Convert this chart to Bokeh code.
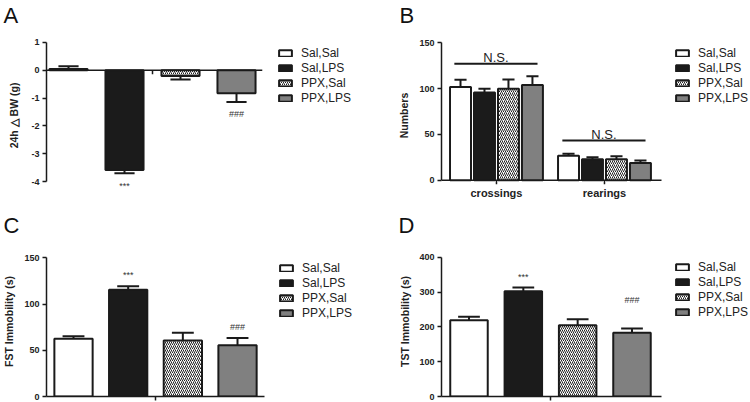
from bokeh.plotting import figure
from bokeh.layouts import row, column
from bokeh.models import Range1d, FixedTicker, Legend, LegendItem, ColumnDataSource
from bokeh.embed import file_html
from bokeh.resources import INLINE
from bokeh.core.properties import value

# ---------------- data ----------------
groups = ["Sal,Sal", "Sal,LPS", "PPX,Sal", "PPX,LPS"]

a_mean = [0.05, -3.58, -0.21, -0.83]
a_sem = [0.09, 0.12, 0.12, 0.31]
a_marks = ["", "***", "", "###"]
a_mark_y = [0.0, -4.14, 0.0, -1.57]

b_categories = ["crossings", "rearings"]
b_mean_sal_sal = [101.7, 26.7]
b_mean_sal_lps = [95.6, 23.0]
b_mean_ppx_sal = [99.9, 23.0]
b_mean_ppx_lps = [103.9, 18.8]
b_sem_sal_sal = [7.9, 2.2]
b_sem_sal_lps = [4.3, 2.2]
b_sem_ppx_sal = [10.1, 3.3]
b_sem_ppx_lps = [9.4, 2.8]
b_ns_y = [127.0, 43.3]

c_mean = [62.4, 115.4, 60.6, 55.5]
c_sem = [2.8, 3.9, 8.3, 7.9]
c_marks = ["", "***", "", "###"]
c_mark_y = [0.0, 132.0, 0.0, 75.0]

d_mean = [219.0, 302.6, 204.4, 183.0]
d_sem = [10.0, 10.4, 17.3, 12.7]
d_marks = ["", "***", "", "###"]
d_mark_y = [0.0, 344.0, 0.0, 278.0]

# ---------------- styles ----------------
FONT = "Liberation Sans"
INK = "#1a1a1a"
fills = ["white", "#1b1b1b", "white", "#808080"]
hatches = [" ", " ", "/", " "]


def base_fig(left, top, bottom, xr, xbounds, yr, yticks, ybounds, ylabel, ystandoff):
    p = figure(width=375, height=201, x_range=Range1d(*xr), y_range=Range1d(*yr),
               output_backend="svg", toolbar_location=None,
               min_border_left=left, min_border_right=0,
               min_border_top=top, min_border_bottom=bottom)
    p.grid.visible = False
    p.outline_line_color = None
    p.background_fill_color = "white"
    p.border_fill_color = "white"
    ya = p.yaxis[0]
    ya.ticker = FixedTicker(ticks=yticks)
    ya.bounds = ybounds
    ya.major_label_overrides = {t: str(t) for t in yticks}
    ya.minor_tick_line_color = None
    ya.major_tick_in = 0
    ya.major_tick_out = 4
    ya.axis_line_width = 1.5
    ya.axis_line_color = INK
    ya.major_tick_line_color = INK
    ya.major_tick_line_width = 1.5
    ya.major_label_text_font = FONT
    ya.major_label_text_font_style = "bold"
    ya.major_label_text_font_size = "9px"
    ya.major_label_text_color = "#222222"
    ya.major_label_standoff = 3
    ya.axis_label = ylabel
    ya.axis_label_text_font = FONT
    ya.axis_label_text_font_style = "bold"
    ya.axis_label_text_font_size = "10.5px"
    ya.axis_label_text_color = "#222222"
    ya.axis_label_standoff = ystandoff
    xa = p.xaxis[0]
    xa.bounds = xbounds
    xa.minor_tick_line_color = None
    xa.major_tick_in = 0
    xa.major_tick_out = 4
    xa.axis_line_width = 1.5
    xa.axis_line_color = INK
    xa.major_tick_line_color = INK
    xa.major_tick_line_width = 1.5
    xa.ticker = FixedTicker(ticks=[sum(range(len(groups))) / len(groups)])
    xa.major_label_overrides = {1.5: ""}
    xa.major_label_text_font_size = "0px"
    xa.major_label_standoff = 0
    return p


def letter_title(p, letter, offset, standoff):
    p.title.text = letter
    p.title.align = "left"
    p.title.vertical_align = "top"
    p.title.offset = offset
    p.title.standoff = standoff
    p.title.text_font = FONT
    p.title.text_font_style = "normal"
    p.title.text_font_size = "22px"
    p.title.text_color = "#111111"


def add_legend(p, renderer, loc, step=1):
    items = [LegendItem(label=g, renderers=[renderer], index=i * step) for i, g in enumerate(groups)]
    lg = Legend(items=items, location=loc, border_line_color=None,
                background_fill_alpha=0, glyph_width=16, glyph_height=8,
                label_text_font=FONT, label_text_font_size="12px",
                label_text_color="#222222", label_height=15,
                label_standoff=8, spacing=0, padding=0, margin=0)
    p.add_layout(lg)


def simple_bars(p, means, sems, bar_w, cap_hw, marks, mark_y):
    xs = list(range(len(groups)))
    ends = [m + (s if m >= 0 else -s) for m, s in zip(means, sems)]
    p.segment(x0=xs, y0=means, x1=xs, y1=ends, line_color=INK, line_width=2)
    p.segment(x0=[x - cap_hw for x in xs], y0=ends, x1=[x + cap_hw for x in xs], y1=ends,
              line_color=INK, line_width=2)
    src = ColumnDataSource(dict(x=xs, top=means, fill=fills, hatch=hatches))
    r = p.vbar(x="x", top="top", bottom=0, width=bar_w, source=src,
               fill_color="fill", hatch_pattern="hatch", hatch_color="#222222",
               hatch_scale=4, hatch_weight=1, line_color=INK, line_width=2)
    mx = [x for x, t in zip(xs, marks) if t]
    my = [y for y, t in zip(mark_y, marks) if t]
    mt = [t for t in marks if t]
    p.text(x=mx, y=my, text=mt, text_align="center", text_baseline="middle",
           text_font=value(FONT), text_font_size="9px", text_color="#333333")
    return r


# ---------------- Panel A ----------------
a_xr = (-0.393, 5.482)
a_xbounds = (a_xr[0], 3.46)
pA = base_fig(46, 30, 2, a_xr, a_xbounds, (-4.643, 1.393),
              [-4, -3, -2, -1, 0, 1], (-4, 1), "24h \u25b3 BW (g)", 8)
pA.xaxis.visible = False
a_mid = sum(range(len(groups))) / len(groups)
# zero baseline (x axis of panel A) with its centre tick
pA.segment(x0=[a_xbounds[0]], y0=[0], x1=[a_xbounds[1]], y1=[0], line_color=INK, line_width=1.5)
pA.segment(x0=[a_mid], y0=[0], x1=[a_mid], y1=[-0.14], line_color=INK, line_width=1.5)
rA = simple_bars(pA, a_mean, a_sem, 0.68, 0.18, a_marks, a_mark_y)
add_legend(pA, rA, (231, 94))
letter_title(pA, "A", -43, 4)

# ---------------- Panel B ----------------
b_xr = (-0.509, 2.352)
b_xbounds = (b_xr[0], 1.528)
pB = base_fig(66, 30, 2, b_xr, b_xbounds, (-20.9, 162.2),
              [0, 50, 100, 150], (0, 150), "Numbers", 6)
pB.xaxis.visible = False
cats = list(range(len(b_categories)))
# category axis of panel B drawn on the zero line
pB.segment(x0=[b_xbounds[0]], y0=[0], x1=[b_xbounds[1]], y1=[0], line_color=INK, line_width=1.5)
pB.segment(x0=cats, y0=[0] * len(cats), x1=cats, y1=[-4.3] * len(cats), line_color=INK, line_width=1.5)
pB.text(x=cats, y=[-13.3] * len(cats), text=b_categories, text_align="center",
        text_baseline="middle", text_font=value(FONT), text_font_style="bold",
        text_font_size="11px", text_color="#222222")
b_means = [b_mean_sal_sal, b_mean_sal_lps, b_mean_ppx_sal, b_mean_ppx_lps]
b_sems = [b_sem_sal_sal, b_sem_sal_lps, b_sem_ppx_sal, b_sem_ppx_lps]
offsets = [-0.333, -0.111, 0.111, 0.333]
bx, btop, bfill, bhatch, bend = [], [], [], [], []
for gi in range(len(groups)):
    for ci in range(len(b_categories)):
        bx.append(ci + offsets[gi])
        btop.append(b_means[gi][ci])
        bend.append(b_means[gi][ci] + b_sems[gi][ci])
        bfill.append(fills[gi])
        bhatch.append(hatches[gi])
pB.segment(x0=bx, y0=btop, x1=bx, y1=bend, line_color=INK, line_width=2)
pB.segment(x0=[x - 0.056 for x in bx], y0=bend, x1=[x + 0.056 for x in bx], y1=bend,
           line_color=INK, line_width=2)
srcB = ColumnDataSource(dict(x=bx, top=btop, fill=bfill, hatch=bhatch))
rB = pB.vbar(x="x", top="top", bottom=0, width=0.194, source=srcB,
             fill_color="fill", hatch_pattern="hatch", hatch_color="#222222",
             hatch_scale=4, hatch_weight=1, line_color=INK, line_width=2)
pB.segment(x0=[c - 0.39 for c in cats], y0=b_ns_y, x1=[c + 0.38 for c in cats], y1=b_ns_y,
           line_color=INK, line_width=2)
pB.text(x=[c - 0.005 for c in cats], y=[v + 7 for v in b_ns_y], text=["N.S.", "N.S."],
        text_align="center", text_baseline="middle", text_font=value(FONT),
        text_font_size="13px", text_color="#222222")
add_legend(pB, rB, (233, 94), step=len(b_categories))
letter_title(pB, "B", -42, 4)

# ---------------- Panel C ----------------
c_xr = (-0.494, 5.524)
pC = base_fig(46, 45, 6, c_xr, (c_xr[0], 3.49), (0, 162.3),
              [0, 50, 100, 150], (0, 150), "FST Immobility (s)", 6)
rC = simple_bars(pC, c_mean, c_sem, 0.7, 0.2, c_marks, c_mark_y)
add_legend(pC, rC, (232, 76))
letter_title(pC, "C", -43, 13)

# ---------------- Panel D ----------------
d_xr = (-0.506, 5.181)
pD = base_fig(66, 45, 6, d_xr, (d_xr[0], 3.543), (0, 430.9),
              [0, 100, 200, 300, 400], (0, 400), "TST Immobility (s)", 5)
rD = simple_bars(pD, d_mean, d_sem, 0.69, 0.2, d_marks, d_mark_y)
add_legend(pD, rD, (233, 77))
letter_title(pD, "D", -43, 13)

layout = column(row(pA, pB), row(pC, pD))
open("out.html", "w").write(file_html(layout, INLINE))
